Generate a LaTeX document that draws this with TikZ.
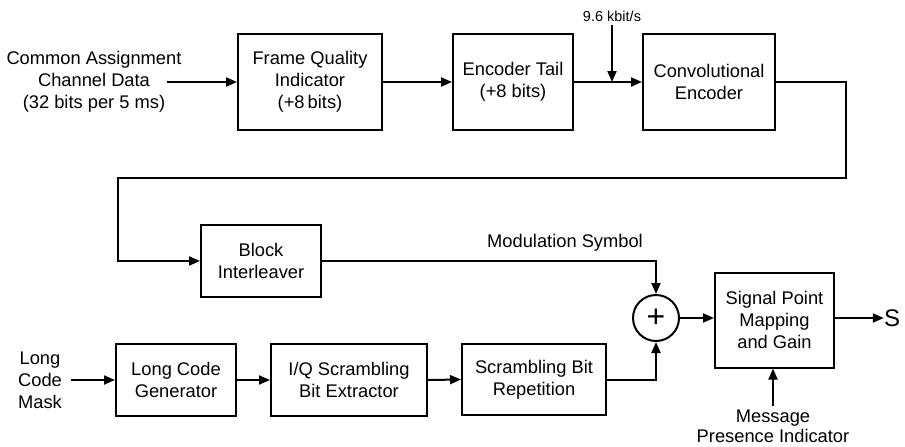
\documentclass[tikz,border=0pt]{standalone}
\usepackage{fontspec}
\setmainfont{Liberation Sans}
\usetikzlibrary{arrows.meta,calc}
\begin{document}
\begin{tikzpicture}[x=1pt,y=-1pt,
  font=\fontsize{18.3}{22}\selectfont,
  blk/.style={draw,line width=2pt,rectangle,align=center,inner sep=0pt},
  txt/.style={align=center,inner sep=0pt},
  arr/.style={line width=2pt,-{Triangle[length=11pt,width=9pt]}}]
\useasboundingbox (0,0) rectangle (905,447);
% top row
\node[txt] (cad) at (94,82) {Common Assignment\\Channel Data\\(32 bits per 5 ms)};
\coordinate (cin) at (167,82);
\node[blk,minimum width=144pt,minimum height=96pt] (fqi) at (310,82) {Frame Quality\\Indicator\\(+8\,bits)};
\node[blk,minimum width=120pt,minimum height=96pt] (et) at (513,82) {Encoder Tail\\(+8 bits)};
\node[blk,minimum width=132pt,minimum height=96pt] (ce) at (709,82) {Convolutional\\Encoder};
\node[txt,font=\fontsize{14.5}{17}\selectfont] (rate) at (612,16) {9.6 kbit/s};
\coordinate (j1) at (612,82);
\coordinate (r1) at (846,82);
\coordinate (r2) at (846,178);
\coordinate (l1) at (118,178);
% middle
\node[blk,minimum width=120pt,minimum height=72pt] (bi) at (261,261) {Block\\Interleaver};
\node[txt] (ms) at (565,243) {Modulation Symbol};
\node[draw,circle,line width=2pt,minimum size=46pt,inner sep=0pt,font=\fontsize{32}{32}\selectfont] (sum) at (656,318) {+};
\node[blk,minimum width=119pt,minimum height=95pt] (spm) at (774.5,320) {Signal Point\\Mapping\\and Gain};
\node[txt,font=\fontsize{24}{24}\selectfont] (s) at (892,318) {S};
\node[txt,font=\fontsize{18.3}{20}\selectfont] (mpi) at (773,426) {Message\\Presence Indicator};
% bottom row
\node[txt] (lcm) at (40,380) {Long\\Code\\Mask};
\coordinate (lin) at (71,380);
\node[blk,minimum width=120pt,minimum height=72pt] (lcg) at (176,380) {Long Code\\Generator};
\node[blk,minimum width=156pt,minimum height=72pt] (iq) at (349,380) {I/Q Scrambling\\Bit Extractor};
\node[blk,minimum width=144pt,minimum height=71pt] (sbr) at (534,379.5) {Scrambling Bit\\Repetition};
% connectors
\draw[arr] (cin) -- (fqi.west);
\draw[arr] (fqi.east) -- (et.west);
\draw[arr] (et.east) -- (ce.west);
\draw[arr] (rate.south) ++(0,3) -- (j1);
\draw[arr] (ce.east) -- (r1) -- (r2) -- (l1) |- (bi.west);
\draw[arr] (bi.east) -| (sum.north);
\draw[arr] (sbr.east) -| (sum.south);
\draw[arr] (sum.east) -- (sum.east -| spm.west);
\draw[arr] (sum.east -| spm.east) -- (s.west);
\draw[arr] (mpi.north) ++(0,-3) -- (mpi.north |- spm.south);
\draw[arr] (lin) -- (lcg.west);
\draw[arr] (lcg.east) -- (iq.west);
\draw[arr] (iq.east) -- (sbr.west);
\end{tikzpicture}
\end{document}
